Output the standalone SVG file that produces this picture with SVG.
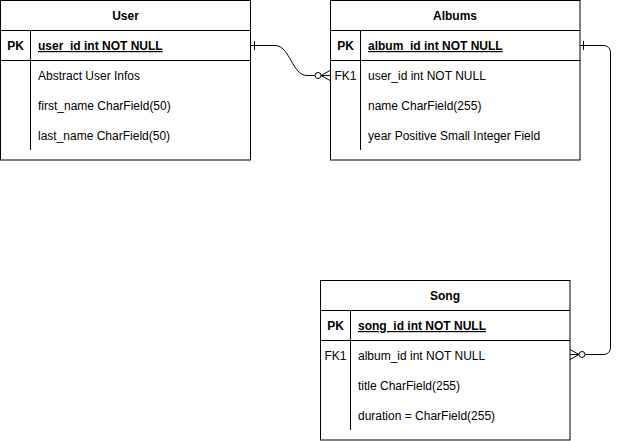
<svg xmlns="http://www.w3.org/2000/svg" width="620" height="441" viewBox="0 0 620 441">
<style>
.box{fill:#fff;stroke:#000;stroke-width:1}
.ln{stroke:#000;stroke-width:1;fill:none}
text{font-family:"Liberation Sans",Arial,sans-serif;font-size:12px;fill:#000}
.h{font-weight:bold;text-anchor:middle}
.k{text-anchor:middle}
.b{font-weight:bold}
.pk{font-weight:bold;text-decoration:underline}
</style>
<rect width="620" height="441" fill="#fff"/>
<g id="user">
<rect class="box" x="0.5" y="0.5" width="250" height="159.5"/>
<line class="ln" x1="0.5" y1="30.5" x2="250.5" y2="30.5"/>
<line class="ln" x1="0.5" y1="60.5" x2="250.5" y2="60.5"/>
<line class="ln" x1="30.5" y1="30.5" x2="30.5" y2="150"/>
<text class="h" x="125.5" y="20">User</text>
<text class="k b" x="15.5" y="50">PK</text>
<text class="pk" x="38" y="50">user_id int NOT NULL</text>
<text x="38" y="80">Abstract User Infos</text>
<text x="38" y="110">first_name CharField(50)</text>
<text x="38" y="140">last_name CharField(50)</text>
</g>
<g id="albums">
<rect class="box" x="330.5" y="0.5" width="249.5" height="159.5"/>
<line class="ln" x1="330.5" y1="30.5" x2="580" y2="30.5"/>
<line class="ln" x1="330.5" y1="60.5" x2="580" y2="60.5"/>
<line class="ln" x1="360.5" y1="30.5" x2="360.5" y2="150"/>
<text class="h" x="455" y="20">Albums</text>
<text class="k b" x="345.5" y="50">PK</text>
<text class="pk" x="368" y="50">album_id int NOT NULL</text>
<text class="k" x="345.5" y="80">FK1</text>
<text x="368" y="80">user_id int NOT NULL</text>
<text x="368" y="110">name CharField(255)</text>
<text x="368" y="140">year Positive Small Integer Field</text>
</g>
<g id="song">
<rect class="box" x="320.5" y="280.5" width="249.5" height="159.5"/>
<line class="ln" x1="320.5" y1="310.5" x2="570" y2="310.5"/>
<line class="ln" x1="320.5" y1="340.5" x2="570" y2="340.5"/>
<line class="ln" x1="350.5" y1="310.5" x2="350.5" y2="430"/>
<text class="h" x="445" y="300">Song</text>
<text class="k b" x="335.5" y="330">PK</text>
<text class="pk" x="358" y="330">song_id int NOT NULL</text>
<text class="k" x="335.5" y="360">FK1</text>
<text x="358" y="360">album_id int NOT NULL</text>
<text x="358" y="390">title CharField(255)</text>
<text x="358" y="420">duration = CharField(255)</text>
</g>
<g id="connectors">
<path class="ln" d="M251 45.5 H275 C290 45.5 292 75.5 307 75.5 H315"/>
<line class="ln" x1="254.5" y1="41" x2="254.5" y2="50"/>
<circle class="ln" cx="318" cy="75.5" r="3" fill="#fff"/>
<path class="ln" d="M330 70.5 L321 75.5 L330 80.5 M321 75.5 H330"/>
<path class="ln" d="M580 45.5 H603 Q610.5 45.5 610.5 53 V347 Q610.5 354.5 603 354.5 H585"/>
<line class="ln" x1="583.5" y1="41" x2="583.5" y2="50"/>
<circle class="ln" cx="582" cy="354.5" r="3" fill="#fff"/>
<path class="ln" d="M570 349.5 L579 354.5 L570 359.5 M570 354.5 H579"/>
</g>
</svg>
